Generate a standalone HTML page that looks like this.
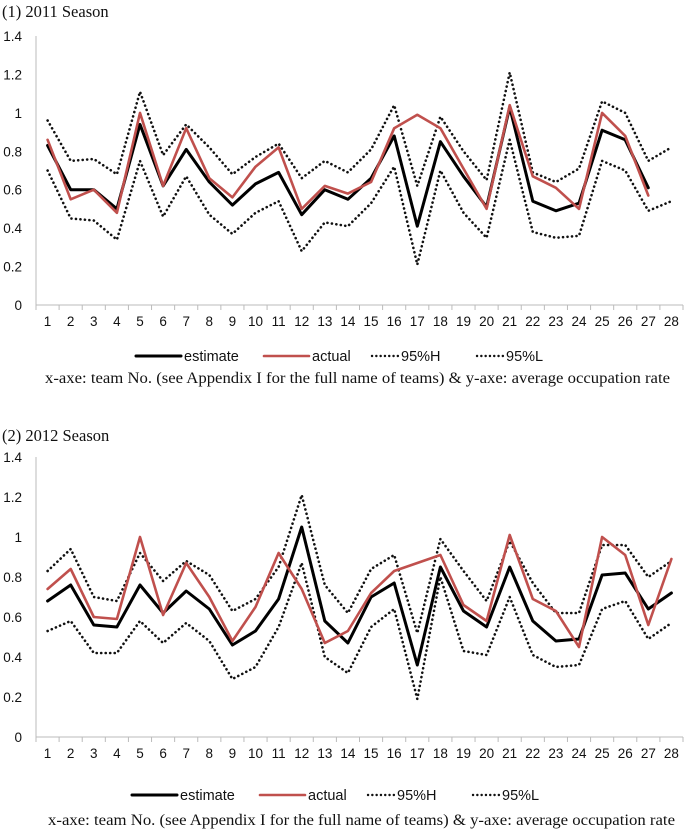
<!DOCTYPE html>
<html><head><meta charset="utf-8">
<style>
html,body{margin:0;padding:0;background:#fff;}
svg{display:block;}
.tk{font-family:"Liberation Sans",sans-serif;font-size:13.5px;fill:#111;}
.lg{font-family:"Liberation Sans",sans-serif;font-size:14.5px;fill:#111;}
.ser{font-family:"Liberation Serif",serif;fill:#111;}
</style></head>
<body>
<svg id="root" width="685" height="837" viewBox="0 0 685 837" xmlns="http://www.w3.org/2000/svg"></svg>
<script>
const teams = [1,2,3,4,5,6,7,8,9,10,11,12,13,14,15,16,17,18,19,20,21,22,23,24,25,26,27,28];
const yTicks = [0,0.2,0.4,0.6,0.8,1,1.2,1.4];
const yTickLabels = ["0","0.2","0.4","0.6","0.8","1","1.2","1.4"];
const est2011 = [.83,.60,.60,.50,.94,.62,.81,.64,.52,.63,.69,.47,.60,.55,.66,.88,.41,.85,.67,.51,1.03,.54,.49,.53,.91,.86,.61];
const act2011 = [.86,.55,.60,.48,1.00,.62,.92,.66,.56,.72,.82,.50,.62,.58,.64,.92,.99,.92,.71,.50,1.04,.67,.61,.50,1.00,.88,.57];
const hi2011 = [.96,.75,.76,.68,1.11,.78,.94,.82,.68,.77,.84,.66,.75,.69,.81,1.04,.62,.98,.80,.65,1.21,.69,.64,.71,1.06,1.00,.75,.82];
const lo2011 = [.70,.45,.44,.34,.75,.46,.67,.47,.37,.48,.54,.28,.43,.41,.53,.72,.21,.70,.48,.35,.86,.38,.35,.36,.75,.70,.49,.54];
const est2012 = [.68,.76,.56,.55,.76,.62,.73,.64,.46,.53,.69,1.05,.58,.47,.70,.77,.36,.85,.63,.55,.85,.58,.48,.49,.81,.82,.64,.72];
const act2012 = [.74,.84,.60,.59,1.00,.61,.87,.70,.48,.65,.92,.74,.47,.53,.72,.83,.87,.91,.66,.58,1.01,.69,.63,.45,1.00,.91,.56,.89];
const hi2012 = [.83,.94,.70,.68,.92,.78,.88,.81,.63,.69,.85,1.21,.76,.62,.84,.91,.52,.99,.83,.68,.98,.77,.62,.62,.96,.96,.80,.88];
const lo2012 = [.53,.58,.42,.42,.58,.47,.57,.48,.29,.35,.55,.87,.40,.32,.55,.64,.19,.80,.43,.41,.70,.41,.35,.36,.64,.68,.49,.57];

const NS = "http://www.w3.org/2000/svg";
const root = document.getElementById('root');
function mk(tag, attrs, parent){const e=document.createElementNS(NS,tag);for(const k in attrs)e.setAttribute(k,attrs[k]);(parent||root).appendChild(e);return e;}

function chart(cfg){
  const g = mk('g',{});
  
  
  const x0=36, x1=683, bw=(x1-x0)/teams.length;
  const xs = i => x0 + (i+0.5)*bw;
  const ys = v => cfg.y0 - v/1.4*(cfg.y0-cfg.yTop);
  const t = mk('text',{x:2,y:cfg.titleY,class:'ser','font-size':'16.5'},g);
  t.textContent = cfg.title;
  
  
  const ya = mk('line',{x1:x0,y1:cfg.yTop,x2:x0,y2:cfg.y0,stroke:'#bbb','stroke-width':1},g);
  
  
  yTicks.forEach((v,i)=>{
    const tl = mk('text',{x:22,y:ys(v)+5,class:'tk','text-anchor':'end'},g);
    tl.textContent = yTickLabels[i];
    
    
  });
  const xa = mk('line',{x1:x0,y1:cfg.y0,x2:x1,y2:cfg.y0,stroke:'#bbb','stroke-width':1},g);
  
  
  for(let i=0;i<=teams.length;i++){
    mk('line',{x1:x0+i*bw,y1:cfg.y0,x2:x0+i*bw,y2:cfg.y0+5,stroke:'#bbb'},g);
  }
  teams.forEach((tm,i)=>{
    const tl = mk('text',{x:xs(i),y:cfg.y0+21,class:'tk','text-anchor':'middle'},g);
    tl.textContent = tm;
    
    
  });
  const series = [
    [cfg.hi,'#111',2.6,'0.1 4.4','series-95h'],
    [cfg.lo,'#111',2.6,'0.1 4.4','series-95l'],
    [cfg.est,'#000',3,'','series-estimate'],
    [cfg.act,'#c0504d',2.6,'','series-actual']
  ];
  series.forEach(s=>{
    const d = s[0].map((v,i)=>(i?'L':'M')+xs(i).toFixed(1)+' '+ys(v).toFixed(1)).join(' ');
    const p = mk('path',{d:d,fill:'none',stroke:s[1],'stroke-width':s[2],'stroke-linecap':'round','stroke-linejoin':'round'},g);
    if(s[3]) p.setAttribute('stroke-dasharray',s[3]);
    
    
  });
  const ly = cfg.legY, lx = cfg.legDx;
  const items = [[136,45,'estimate','#000','',3],[264,45,'actual','#c0504d','',2.6],[372,26,'95%H','#111','0.1 4.2',2.4],[477,26,'95%L','#111','0.1 4.2',2.4]];
  items.forEach(it=>{
    const lg = mk('g',{},g);
    
    
    const l = mk('line',{x1:it[0]+lx,y1:ly,x2:it[0]+lx+it[1],y2:ly,stroke:it[3],'stroke-width':it[5],'stroke-linecap':'round'},lg);
    if(it[4]) l.setAttribute('stroke-dasharray',it[4]);
    const tx = mk('text',{x:it[0]+lx+it[1]+3,y:ly+5,class:'lg'},lg);
    tx.textContent = it[2];
  });
  const c = mk('text',{x:cfg.capX,y:cfg.capY,class:'ser','font-size':'15.5',textLength:cfg.capW,lengthAdjust:'spacingAndGlyphs'},g);
  c.textContent = 'x-axe: team No. (see Appendix I for the full name of teams) & y-axe: average occupation rate';
  
  
}
chart({name:'chart-2011',title:'(1) 2011 Season',titleY:17,y0:305,yTop:36,est:est2011,act:act2011,hi:hi2011,lo:lo2011,legY:356,legDx:0,capX:45,capW:625,capY:383});
chart({name:'chart-2012',title:'(2) 2012 Season',titleY:441,y0:737,yTop:457,est:est2012,act:act2012,hi:hi2012,lo:lo2012,legY:795,legDx:-4,capX:48,capW:627,capY:825});
</script>
</body></html>
